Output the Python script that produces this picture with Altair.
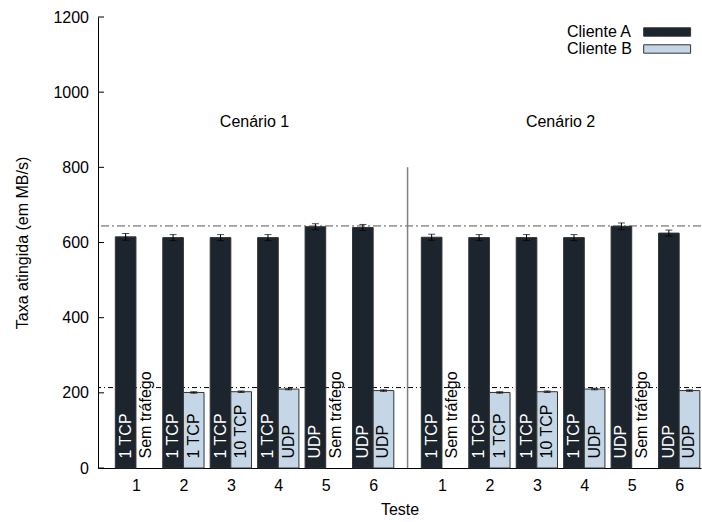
import altair as alt
import pandas as pd

# Grupos e séries
cenarios = ["Cenário 1", "Cenário 2"]
testes = [1, 2, 3, 4, 5, 6]
clientes = ["Cliente A", "Cliente B"]

# Taxa média atingida (MB/s) e desvio para cada teste
taxa_a = [[615, 613, 613, 613, 642, 640], [614, 613, 613, 613, 643, 625]]
taxa_b = [[None, 201, 203, 210, None, 206], [None, 201, 203, 210, None, 206]]
erro_a = [[9, 8, 8, 8, 8, 8], [8, 8, 8, 8, 9, 8]]
erro_b = [[0, 2, 2, 2, 0, 2], [0, 2, 2, 2, 0, 2]]

# Tipo de tráfego gerado por cada cliente
trafego_a = ["1 TCP", "1 TCP", "1 TCP", "1 TCP", "UDP", "UDP"]
trafego_b = ["Sem tráfego", "1 TCP", "10 TCP", "UDP", "Sem tráfego", "UDP"]

# Linhas de referência (máximos) e marcas do eixo y
limite_sup = 644
limite_inf = 214
y_ticks = [0, 200, 400, 600, 800, 1000, 1200]

# Layout do eixo x: grupos espaçados de 1 unidade, cenários separados por um vão
OFFSET_CENARIO = 6.45
BAR_W = 0.435
COR_A = "#1c242e"
COR_B = "#c5d7e6"
FONTE = "Liberation Sans"

linhas = []
posicoes = []
for ci, cen in enumerate(cenarios):
    for ti, t in enumerate(testes):
        p = ci * OFFSET_CENARIO + ti
        posicoes.append(p)
        for cli, taxa, erro, traf, sinal in (
            ("Cliente A", taxa_a[ci][ti], erro_a[ci][ti], trafego_a[ti], -1),
            ("Cliente B", taxa_b[ci][ti], erro_b[ci][ti], trafego_b[ti], 1),
        ):
            x0 = p if sinal > 0 else p - BAR_W
            x1 = p + BAR_W if sinal > 0 else p
            linhas.append({
                "cenario": cen, "teste": t, "cliente": cli,
                "x0": x0, "x1": x1, "xc": (x0 + x1) / 2,
                "taxa": taxa,
                "lo": None if taxa is None else taxa - erro,
                "hi": None if taxa is None else taxa + erro,
                "rotulo": traf,
                "cor": "white" if cli == "Cliente A" else "black",
            })

df = pd.DataFrame(linhas)
df_barras = df[df["taxa"].notna()]

separador = (posicoes[5] + posicoes[6]) / 2
df_cen = pd.DataFrame({
    "cenario": cenarios,
    "xc": [sum(posicoes[:6]) / 6, sum(posicoes[6:]) / 6],
})

xs = alt.Scale(domain=[-0.8, 11.91], nice=False, zero=False)
ys = alt.Scale(domain=[0, 1200], nice=False)

x_axis = alt.Axis(
    values=posicoes,
    labelExpr=f"round(datum.value < {OFFSET_CENARIO} ? datum.value + 1 : datum.value - {OFFSET_CENARIO} + 1)",
    ticks=False, tickSize=0, grid=False, labelPadding=9,
    titlePadding=8, domainColor="black",
)
y_axis = alt.Axis(
    values=y_ticks, format="d", ticks=False, tickSize=0, grid=False,
    labelPadding=9.5, titlePadding=22, domainColor="black",
)

# Legenda com o rótulo à esquerda: a amostra é um retângulo deslocado para a direita do texto
legenda = alt.Legend(
    title=None, orient="none", legendX=453, legendY=7,
    symbolType="M12.1,-0.6H18.8V0.6H12.1Z", symbolSize=196,
    symbolStrokeColor="#333", symbolStrokeWidth=1, symbolOpacity=1,
    labelAlign="left", labelOffset=0, symbolOffset=0,
    labelFontSize=16, labelFont=FONTE, labelColor="black",
    rowPadding=1, padding=0,
)

base = alt.Chart(df_barras)

linha_sup = alt.Chart(pd.DataFrame({"v": [limite_sup]})).mark_rule(
    color="#555", strokeWidth=1, strokeDash=[8, 3, 2, 3]
).encode(y=alt.Y("v:Q", scale=ys))
linha_inf = alt.Chart(pd.DataFrame({"v": [limite_inf]})).mark_rule(
    color="black", strokeWidth=1, strokeDash=[5, 3, 1, 3]
).encode(y=alt.Y("v:Q", scale=ys))

barras = base.mark_rect(stroke="#333", strokeWidth=1).encode(
    x=alt.X("x0:Q", scale=xs, axis=x_axis, title="Teste"),
    x2="x1:Q",
    y=alt.Y("taxa:Q", scale=ys, axis=y_axis, title="Taxa atingida (em MB/s)"),
    y2=alt.datum(0),
    color=alt.Color("cliente:N", scale=alt.Scale(domain=clientes, range=[COR_A, COR_B]), legend=legenda),
)

erro_linha = base.mark_rule(color="black", strokeWidth=1).encode(
    x="xc:Q", y="lo:Q", y2="hi:Q"
)
erro_topo = base.mark_tick(orient="horizontal", size=7, thickness=1, color="black").encode(
    x="xc:Q", y="hi:Q"
)
erro_base = base.mark_tick(orient="horizontal", size=7, thickness=1, color="black").encode(
    x="xc:Q", y="lo:Q"
)

rotulos = alt.Chart(df).mark_text(
    angle=270, align="left", baseline="middle", dx=9.5, font=FONTE, fontSize=16
).encode(
    x="xc:Q", y=alt.datum(0), text="rotulo:N", color=alt.Color("cor:N", scale=None)
)

sep = alt.Chart(pd.DataFrame({"x": [separador]})).mark_rule(
    color="#808080", strokeWidth=1.5
).encode(x="x:Q", y=alt.datum(0), y2=alt.datum(800))

nomes_cen = alt.Chart(df_cen).mark_text(font=FONTE, fontSize=16, color="black").encode(
    x="xc:Q", y=alt.datum(920), text="cenario:N"
)

marcas_y = alt.Chart(pd.DataFrame({"v": y_ticks})).mark_rule(color="black", strokeWidth=1).encode(
    y="v:Q", x=alt.value(0), x2=alt.value(6)
)

chart = alt.layer(
    linha_sup, linha_inf, sep, barras, erro_linha, erro_topo, erro_base,
    rotulos, nomes_cen, marcas_y,
).properties(
    width=603, height=451,
    autosize=alt.AutoSizeParams(type="none"),
    padding={"left": 98, "top": 17, "right": 1, "bottom": 52},
).configure_view(stroke=None).configure_axis(
    labelFont=FONTE, labelFontSize=16, labelColor="black",
    titleFont=FONTE, titleFontSize=16, titleFontWeight="normal", titleColor="black",
    domainWidth=1,
)

chart.save("out.html", embed_options={"renderer": "svg", "actions": False})
